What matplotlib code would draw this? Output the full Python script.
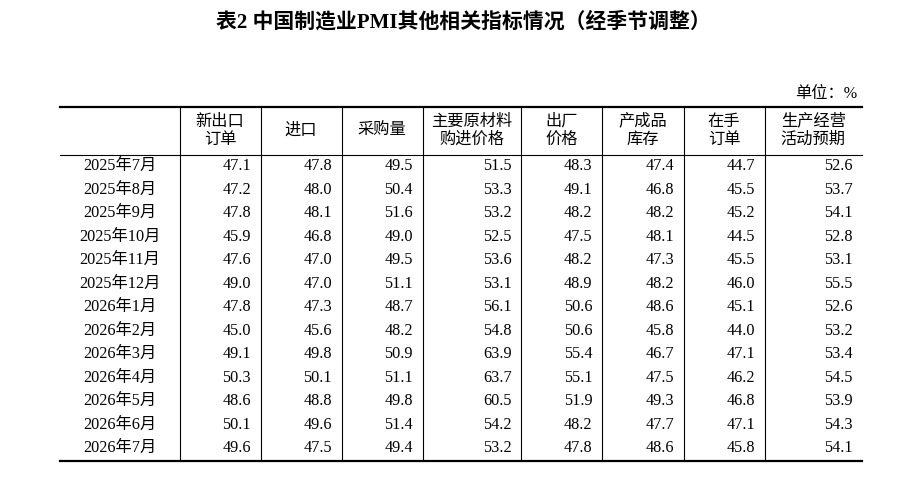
import matplotlib
matplotlib.use("Agg")
import matplotlib.pyplot as plt

# data
months = ["2025年7月", "2025年8月", "2025年9月", "2025年10月", "2025年11月", "2025年12月",
          "2026年1月", "2026年2月", "2026年3月", "2026年4月", "2026年5月", "2026年6月", "2026年7月"]
headers = ["新出口\n订单", "进口", "采购量", "主要原材料\n购进价格", "出厂\n价格",
           "产成品\n库存", "在手\n订单", "生产经营\n活动预期"]
new_export = [47.1, 47.2, 47.8, 45.9, 47.6, 49.0, 47.8, 45.0, 49.1, 50.3, 48.6, 50.1, 49.6]
imports = [47.8, 48.0, 48.1, 46.8, 47.0, 47.0, 47.3, 45.6, 49.8, 50.1, 48.8, 49.6, 47.5]
purchase = [49.5, 50.4, 51.6, 49.0, 49.5, 51.1, 48.7, 48.2, 50.9, 51.1, 49.8, 51.4, 49.4]
input_price = [51.5, 53.3, 53.2, 52.5, 53.6, 53.1, 56.1, 54.8, 63.9, 63.7, 60.5, 54.2, 53.2]
output_price = [48.3, 49.1, 48.2, 47.5, 48.2, 48.9, 50.6, 50.6, 55.4, 55.1, 51.9, 48.2, 47.8]
finished_stock = [47.4, 46.8, 48.2, 48.1, 47.3, 48.2, 48.6, 45.8, 46.7, 47.5, 49.3, 47.7, 48.6]
backlog = [44.7, 45.5, 45.2, 44.5, 45.5, 46.0, 45.1, 44.0, 47.1, 46.2, 46.8, 47.1, 45.8]
expectation = [52.6, 53.7, 54.1, 52.8, 53.1, 55.5, 52.6, 53.2, 53.4, 54.5, 53.9, 54.3, 54.1]

columns = [new_export, imports, purchase, input_price, output_price,
           finished_stock, backlog, expectation]

FONT = ["Liberation Serif", "Noto Sans CJK SC"]
W, H = 911, 478

# layout (pixels)
col_edges = [59.5, 179.5, 260.5, 341.5, 422.5, 521, 602, 683.5, 764.5, 862]
y_top, y_head, y_bot = 107, 154.5, 460.5
row0, row_h = 166, 23.53
pad = 9.5
fs = 11.7

fig = plt.figure(figsize=(W / 100, H / 100), dpi=100)
ax = fig.add_axes([0, 0, 1, 1])
ax.set_xlim(0, W)
ax.set_ylim(H, 0)
ax.axis("off")

ax.text(463, 22, "表2 中国制造业PMI其他相关指标情况（经季节调整）", family=FONT,
        fontweight="bold", fontsize=15, ha="center", va="center")
ax.text(857, 94, "单位：%", family=FONT, fontsize=fs, ha="right", va="center",
        fontweight="light")

# rules
ax.plot([col_edges[0], col_edges[-1]], [y_top, y_top], color="black", lw=1.6)
ax.plot([col_edges[0], col_edges[-1]], [y_head, y_head], color="black", lw=0.8)
ax.plot([col_edges[0], col_edges[-1]], [y_bot, y_bot], color="black", lw=1.6)
for x in col_edges[1:-1]:
    ax.plot([x, x], [y_top, y_bot], color="black", lw=0.8)

# header
for j, h in enumerate(headers):
    xc = (col_edges[j + 1] + col_edges[j + 2]) / 2
    ax.text(xc, (y_top + y_head) / 2, h, family=FONT, fontsize=fs, fontweight="light",
            ha="center", va="center", linespacing=1.2, multialignment="center")

# body
for i, m in enumerate(months):
    y = row0 + i * row_h
    ax.text((col_edges[0] + col_edges[1]) / 2, y, m, family=FONT, fontsize=fs,
            fontweight="light", ha="center", va="center")
    for j, col in enumerate(columns):
        ax.text(col_edges[j + 2] - pad, y, f"{col[i]:.1f}", family=FONT, fontsize=fs,
                ha="right", va="center")

fig.savefig("out.png", dpi=100)
